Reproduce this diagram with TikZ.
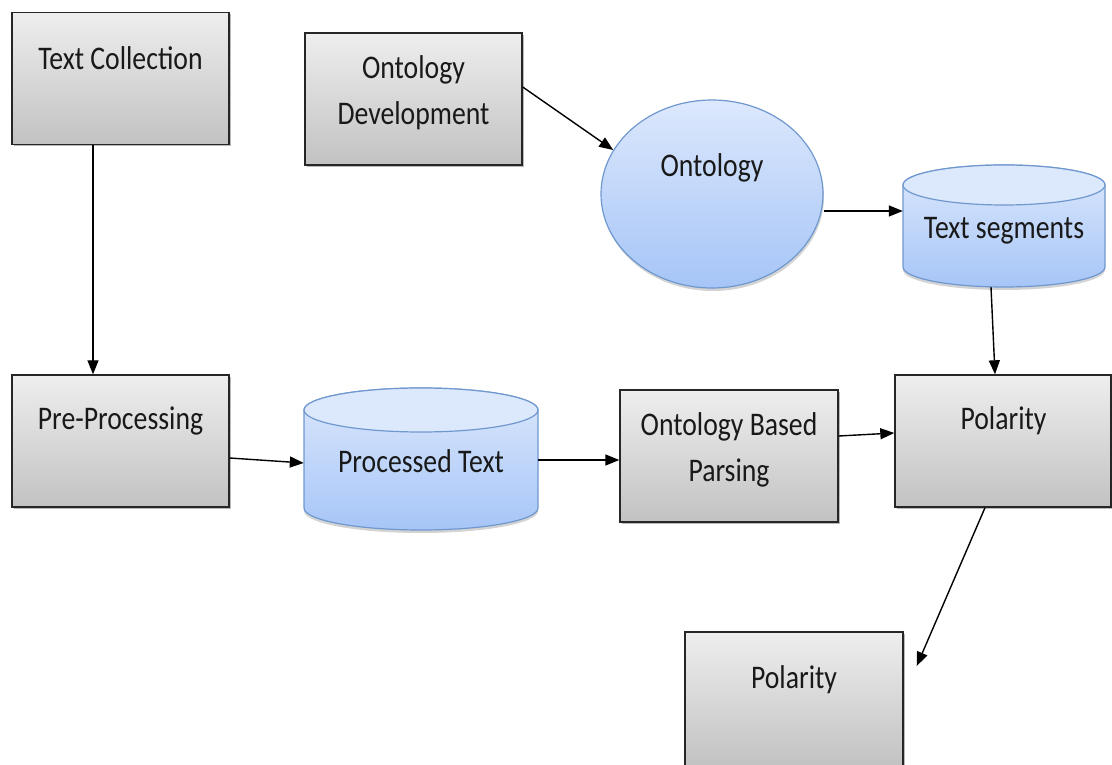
\documentclass[tikz,border=0pt]{standalone}
\usepackage{fontspec}
\setmainfont{Carlito}
\usetikzlibrary{arrows.meta,shadows,calc,shapes.geometric}
\definecolor{gtop}{HTML}{EEEEEE}
\definecolor{gbot}{HTML}{C2C2C2}
\definecolor{btop}{HTML}{DCE8FC}
\definecolor{bbot}{HTML}{A6C5F7}
\definecolor{bline}{HTML}{6F98CF}
\tikzset{
  x=1pt,y=1pt,
  greybox/.style={draw=black!85, line width=1.4pt, top color=gtop, bottom color=gbot,
    minimum width=217pt, minimum height=132pt, inner sep=0pt,
    drop shadow={shadow xshift=2pt, shadow yshift=-2pt, opacity=0.45, fill=black!60}},
  blueell/.style={ellipse, draw=bline, line width=1.2pt, top color=btop, bottom color=bbot,
    minimum width=222pt, minimum height=188pt, inner sep=0pt,
    drop shadow={shadow xshift=1pt, shadow yshift=-3pt, opacity=0.35, fill=black!50}},
  anchorbox/.style={inner sep=0pt, minimum width=#1},
  lbl/.style={font=\fontsize{33}{46}\selectfont, text=black!90, align=center, inner sep=0pt,
    xscale=0.84, transform shape},
  conn/.style={line width=1.4pt, black, -{Triangle[length=14pt,width=11pt]}}
}
% cylinder drawn from a named node: #1 node, #2 half width, #3 half height, #4 ry
\newcommand{\mycyl}[4]{%
  \fill[black!50, opacity=0.35]
    ($(#1.center)+(-#2,-#3+#4-3)$) arc[start angle=180,end angle=360,x radius=#2,y radius=#4]
    -- ($(#1.center)+(#2,-#3+#4+3)$) -- ($(#1.center)+(-#2,-#3+#4+3)$) -- cycle;
  \draw[bline, line width=1.2pt, top color=btop, bottom color=bbot]
    ($(#1.center)+(-#2,#3-#4)$) -- ($(#1.center)+(-#2,-#3+#4)$)
    arc[start angle=180,end angle=360,x radius=#2,y radius=#4]
    -- ($(#1.center)+(#2,#3-#4)$)
    arc[start angle=0,end angle=180,x radius=#2,y radius=#4] -- cycle;
  \draw[bline, line width=1.2pt, fill=btop]
    ($(#1.center)+(#2,#3-#4)$) arc[start angle=0,end angle=360,x radius=#2,y radius=#4];
}
\begin{document}
\begin{tikzpicture}
\useasboundingbox (0,0) rectangle (1112,764);
% grey boxes
\node[greybox] (TC) at (120.5,685.5) {};
\node[greybox] (OD) at (413.5,665) {};
\node[greybox] (PP) at (120.5,323) {};
\node[greybox, minimum width=218pt] (OBP) at (729,308) {};
\node[greybox, minimum width=216pt] (POL) at (1003,323) {};
\node[greybox, minimum width=218pt, minimum height=134pt] (POL2) at (794,65) {};
% ellipse
\node[blueell] (ONT) at (712,570) {};
% cylinders
\node[anchorbox=202pt, minimum height=122pt] (TS) at (1004,538) {};
\mycyl{TS}{101}{61}{20}
\node[anchorbox=234pt, minimum height=142pt] (PT) at (421,305) {};
\mycyl{PT}{117}{71}{22}
% labels
\node[lbl] (tTC) at (120.5,706) {Text Collection};
\node[lbl] (tOD) at (413.5,671) {Ontology\\Development};
\node[lbl] (tONT) at (712,596) {Ontology};
\node[lbl] (tTS) at (1004,533) {Text segments};
\node[lbl] (tPP) at (120.5,343) {Pre-Processing};
\node[lbl] (tPT) at (421,303) {Processed Text};
\node[lbl] (tOBP) at (729,314.5) {Ontology Based\\Parsing};
\node[lbl] (tPOL) at (1003.5,343) {Polarity};
\node[lbl] (tPOL2) at (794,84) {Polarity};
% connectors
\draw[conn] ([xshift=-27.5pt]TC.south) -- ([xshift=-27.5pt]PP.north);
\draw[conn] ([yshift=12pt]OD.east) -- (ONT.156);
\draw[conn] ([yshift=-17pt]ONT.east) -- ([yshift=-17pt]ONT.east -| TS.west);
\draw[conn] ([xshift=-13pt]TS.south) -- ([xshift=-8pt]POL.north);
\draw[conn] ([yshift=-17pt]PP.east) -- ([yshift=-4pt]PT.west);
\draw[conn] ([yshift=-1pt]PT.east) -- ([yshift=-1pt]PT.east -| OBP.west);
\draw[conn] ([yshift=20pt]OBP.east) -- ([yshift=8pt]POL.west);
\coordinate (p2) at ([xshift=13pt,yshift=33pt]POL2.east);
\draw[conn] ([xshift=-18pt]POL.south) -- (p2);
\end{tikzpicture}
\end{document}
